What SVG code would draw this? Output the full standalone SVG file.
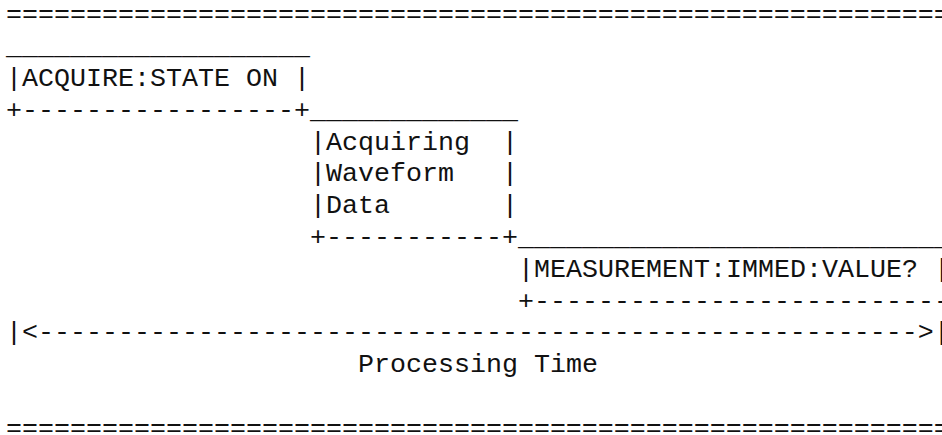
<svg xmlns="http://www.w3.org/2000/svg" width="942" height="435" viewBox="0 0 942 435">
  <style>
    /* monospace grid: 16px column pitch, 31.8px row pitch */
    .t { font-family: "Liberation Mono", "Courier New", monospace; font-size: 26.667px; fill: #111; white-space: pre; }
  </style>
  <rect width="942" height="435" fill="#ffffff"/>

  <!-- top rule (row 0) -->
  <g id="rule-top">
    <text class="t" x="6" y="22.4" xml:space="preserve">============================================================</text>
  </g>

  <!-- ACQUIRE:STATE ON command box (rows 1-3, cols 0-18) -->
  <g id="node-acquire-state">
    <text class="t" x="6" y="54.2" xml:space="preserve">___________________</text>
    <text class="t" x="6" y="86" xml:space="preserve">|ACQUIRE:STATE ON |</text>
    <text class="t" x="6" y="117.8" xml:space="preserve">+-----------------+</text>
  </g>

  <!-- Acquiring Waveform Data box (rows 3-7, cols 19-31) -->
  <g id="node-acquiring">
    <text class="t" x="310" y="117.8" xml:space="preserve">_____________</text>
    <text class="t" x="310" y="149.6" xml:space="preserve">|Acquiring  |</text>
    <text class="t" x="310" y="181.4" xml:space="preserve">|Waveform   |</text>
    <text class="t" x="310" y="213.2" xml:space="preserve">|Data       |</text>
    <text class="t" x="310" y="245" xml:space="preserve">+-----------+</text>
  </g>

  <!-- MEASUREMENT:IMMED:VALUE? query box (rows 7-9, cols 32-58) -->
  <g id="node-measurement">
    <text class="t" x="518" y="245" xml:space="preserve">____________________________</text>
    <text class="t" x="518" y="276.8" xml:space="preserve">|MEASUREMENT:IMMED:VALUE? |</text>
    <text class="t" x="518" y="308.6" xml:space="preserve">+---------------------------</text>
  </g>

  <!-- processing time span (row 10) -->
  <g id="connectors">
    <text class="t" x="6" y="340.4" xml:space="preserve">|&lt;-------------------------------------------------------&gt;|</text>
  </g>

  <g id="label-processing-time">
    <text class="t" x="358" y="372.2" xml:space="preserve">Processing Time</text>
  </g>

  <!-- bottom rule (row 13) -->
  <g id="rule-bottom">
    <text class="t" x="6" y="435.8" xml:space="preserve">============================================================</text>
  </g>
</svg>
